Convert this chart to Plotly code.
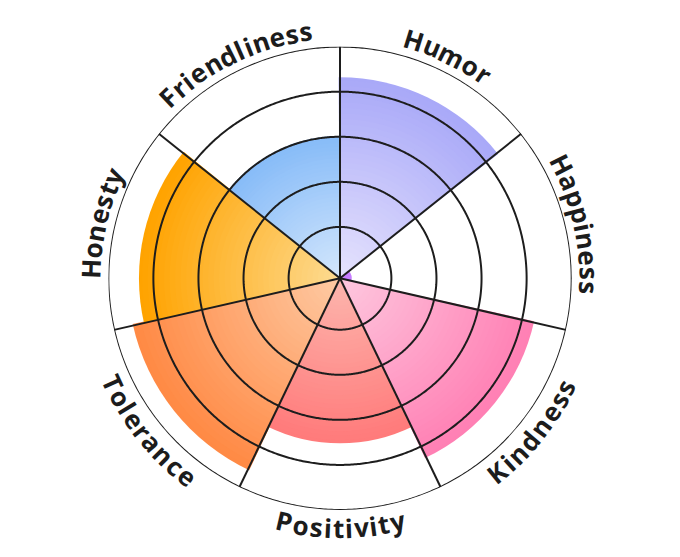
import math
import plotly.graph_objects as go

# ---------------- data ----------------
categories = ["Humor", "Happiness", "Kindness", "Positivity", "Tolerance", "Honesty", "Friendliness"]
values = [85, 1, 84, 69, 90, 85, 59]
outer_colors = ["#A9A9F8", "#C77DFF", "#FF80B4", "#FF7B7B", "#FF8A45", "#FFA300", "#88BCF8"]
inner_colors = ["#E6E3FD", "#C77DFF", "#FEC8DF", "#FDB6AE", "#FECAA4", "#FDDB92", "#D4E7FC"]
ring_vals = [20, 40, 60, 80]

# ---------------- geometry / style ----------------
W, H = 680, 557
PAGE_OFF = 8                      # default body margin of the html page
CX, CY, RAD = 340 - PAGE_OFF, 278.3 - PAGE_OFF, 231.7
R0, RMAX = -2.8, 100
n = len(categories)
sector = 360.0 / n
theta = [sector * (i + 0.5) for i in range(n)]
bounds = [sector * i for i in range(n)]
LINE = "#1d1d1d"


def hex2rgb(h):
    h = h.lstrip("#")
    return [int(h[i:i + 2], 16) for i in (0, 2, 4)]


def mix(c1, c2, t):
    a, b = hex2rgb(c1), hex2rgb(c2)
    return "rgb(%d,%d,%d)" % tuple(round(a[i] + (b[i] - a[i]) * t) for i in range(3))


fig = go.Figure()

# soft rim behind each bar
fig.add_trace(go.Barpolar(
    r=[(v - R0) + 1.4 for v in values], base=R0, theta=theta, width=sector + 0.8,
    marker=dict(color=outer_colors, line=dict(width=0), opacity=1),
    hoverinfo="skip", showlegend=False))

# radial gradient made of overlaid bars
STEPS = 36
for k in range(STEPS, 0, -1):
    t = k / STEPS
    tc = (k - 0.5) / STEPS
    fig.add_trace(go.Barpolar(
        r=[(v - R0) * t for v in values], base=R0, theta=theta, width=sector,
        marker=dict(color=[mix(inner_colors[i], outer_colors[i], tc) for i in range(n)],
                    line=dict(width=0), opacity=1),
        hoverinfo="skip", showlegend=False))

# grid drawn above the bars
circ = [i * 0.5 for i in range(721)]
for rv in ring_vals + [RMAX]:
    fig.add_trace(go.Scatterpolar(r=[rv] * len(circ), theta=circ, mode="lines",
                                  line=dict(color=LINE, width=2), hoverinfo="skip", showlegend=False))
for b in bounds:
    fig.add_trace(go.Scatterpolar(r=[R0, RMAX], theta=[b, b], mode="lines",
                                  line=dict(color=LINE, width=2), hoverinfo="skip", showlegend=False))

# ---------------- curved labels (one annotation per glyph) ----------------
FS = 26
adv = {"H": 1593, "u": 1321, "m": 2002, "o": 1264, "r": 918, "a": 1237, "p": 1300,
       "i": 621, "n": 1321, "e": 1233, "s": 1053, "K": 1368, "d": 1300, "P": 1286,
       "t": 874, "v": 1139, "y": 1137, "T": 1155, "l": 621, "c": 1063, "F": 1141}
TRACK = 1.0
RL = 249.5
annotations = []
for name, th in zip(categories, theta):
    ws = [adv.get(ch, 1200) / 2048 * FS + TRACK for ch in name]
    total = sum(ws)
    top = (th < 90) or (th > 270)
    s = 0
    for ch, w in zip(name, ws):
        sc = s + w / 2 - total / 2
        s += w
        dang = math.degrees(sc / RL)
        ang = th + dang if top else th - dang
        rot = ang if top else ang - 180
        x = CX + RL * math.sin(math.radians(ang))
        y = CY - RL * math.cos(math.radians(ang))
        annotations.append(dict(
            x=x / W, y=1 - y / H, xref="paper", yref="paper", text=ch,
            showarrow=False, xanchor="center", yanchor="middle",
            textangle=((rot + 180) % 360) - 180,
            font=dict(family="Open Sans", size=FS, color="#1c1c1c", weight=700)))

fig.update_layout(
    width=W, height=H,
    margin=dict(l=0, r=0, t=0, b=0),
    paper_bgcolor="white",
    showlegend=False,
    annotations=annotations,
    polar=dict(
        domain=dict(x=[(CX - RAD) / W, (CX + RAD) / W], y=[1 - (CY + RAD) / H, 1 - (CY - RAD) / H]),
        bgcolor="white",
        barmode="overlay",
        angularaxis=dict(direction="clockwise", rotation=90, thetaunit="degrees",
                         tickmode="array", tickvals=bounds, showticklabels=False, ticks="",
                         showgrid=False, showline=False),
        radialaxis=dict(range=[R0, RMAX], tickmode="array", tickvals=ring_vals,
                        showticklabels=False, ticks="", showline=False, showgrid=False),
    ),
)

fig.write_html("out.html")
